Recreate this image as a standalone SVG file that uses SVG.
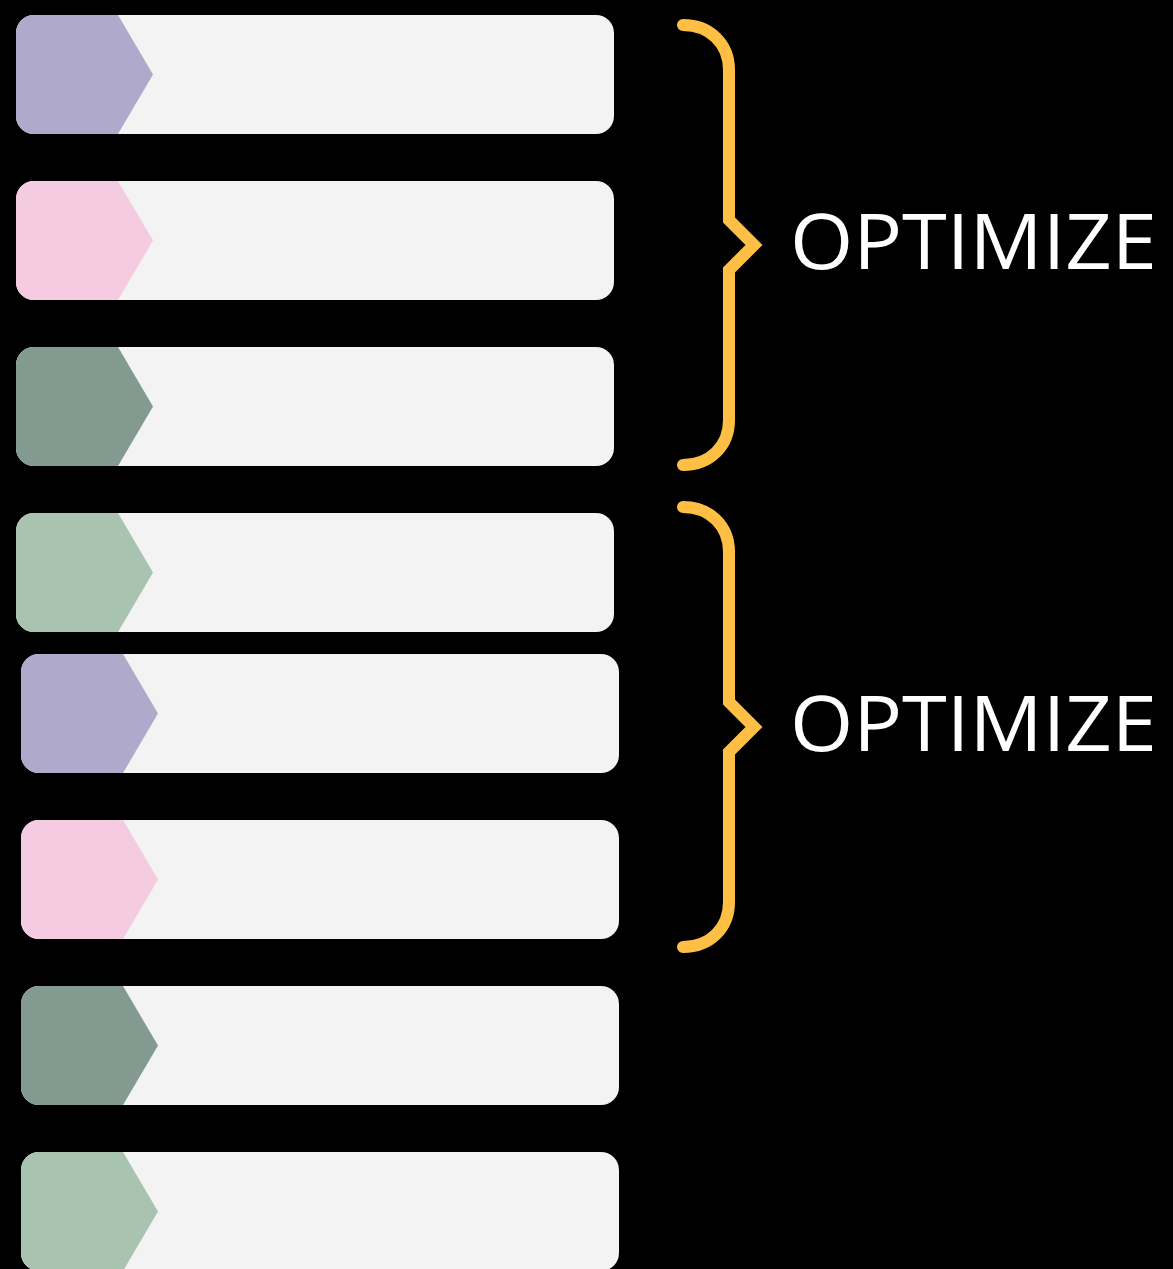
<svg xmlns="http://www.w3.org/2000/svg" width="1173" height="1269" viewBox="0 0 1173 1269">
<style>
.bar{fill:#F3F3F3}
.purple{fill:#AFAACB}
.pink{fill:#F4CBE0}
.sage{fill:#839A91}
.mint{fill:#A9C3B1}
.brace{fill:none;stroke:#FFBE44;stroke-width:12;stroke-linecap:round;stroke-linejoin:miter}
.label{font-family:"Open Sans","Liberation Sans",sans-serif;font-size:76px;fill:#FFFFFF}
</style>
<defs>
<rect id="barShape" x="0" y="0" width="598" height="119" rx="18" ry="18"/>
<path id="tab" d="M18,0 H102 L137,59.5 L102,119 H18 A18,18 0 0 1 0,101 V18 A18,18 0 0 1 18,0 Z"/>
</defs>
<rect width="1173" height="1269" fill="#000000"/>
<g id="bar1" transform="translate(16,15)"><use href="#barShape" class="bar"/><use href="#tab" class="purple"/></g>
<g id="bar2" transform="translate(16,181)"><use href="#barShape" class="bar"/><use href="#tab" class="pink"/></g>
<g id="bar3" transform="translate(16,347)"><use href="#barShape" class="bar"/><use href="#tab" class="sage"/></g>
<g id="bar4" transform="translate(16,513)"><use href="#barShape" class="bar"/><use href="#tab" class="mint"/></g>
<g id="bar5" transform="translate(21,654)"><use href="#barShape" class="bar"/><use href="#tab" class="purple"/></g>
<g id="bar6" transform="translate(21,820)"><use href="#barShape" class="bar"/><use href="#tab" class="pink"/></g>
<g id="bar7" transform="translate(21,986)"><use href="#barShape" class="bar"/><use href="#tab" class="sage"/></g>
<g id="bar8" transform="translate(21,1152)"><use href="#barShape" class="bar"/><use href="#tab" class="mint"/></g>
<g id="connectors">
<path id="brace1" class="brace" d="M683,25 C710,25 729,44 729,70 V220 L754,245 L729,270 V420 C729,446 710,465 683,465"/>
<path id="brace2" class="brace" d="M683,507 C710,507 729,526 729,552 V702 L754,727 L729,752 V902 C729,928 710,947 683,947"/>
</g>
<g id="label1"><text class="label" x="790" y="269" textLength="367" lengthAdjust="spacingAndGlyphs">OPTIMIZE</text></g>
<g id="label2"><text class="label" x="790" y="751" textLength="367" lengthAdjust="spacingAndGlyphs">OPTIMIZE</text></g>
</svg>
